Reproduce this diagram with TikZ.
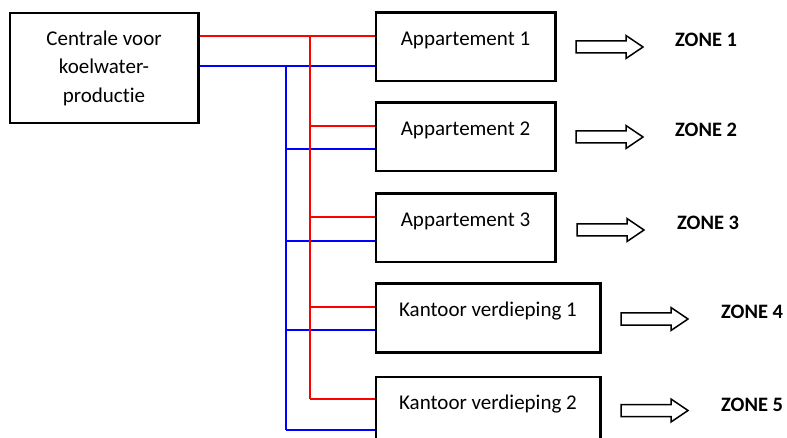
\documentclass[tikz,border=0pt]{standalone}
\usepackage{fontspec}
\setmainfont{Carlito}[Ligatures={NoCommon}]
\begin{document}
\begin{tikzpicture}[x=1pt,y=-1pt,
  box/.style={draw=black, line width=1.5pt, inner sep=0pt, fill=white},
  apbox/.style={box, minimum width=179, minimum height=68},
  kbox/.style={box, minimum width=224, minimum height=68},
  lbl/.style={anchor=base, font=\fontsize{21}{28.5}\selectfont, inner sep=0pt},
  zone/.style={anchor=base west, font=\fontsize{20.5}{24}\selectfont\bfseries, inner sep=0pt},
  hot/.style={draw=red, line width=2pt},
  cold/.style={draw=blue, line width=2pt},
  fatarrow/.pic={\draw[line width=1.5pt, fill=white, line join=miter]
     (0,-6) -- (50,-6) -- (50,-11.5) -- (67,0) -- (50,11.5) -- (50,6) -- (0,6) -- cycle;}
]
\useasboundingbox (0,0) rectangle (787,438);

% boxes
\node[box, minimum width=188, minimum height=109, align=center,
      font=\fontsize{21}{28.5}\selectfont] (cen) at (104,68) {Centrale voor\\koelwater-\\productie};
\node[apbox] (app1) at (465.5,47) {};
\node[apbox] (app2) at (465.5,137) {};
\node[apbox] (app3) at (465.5,228) {};
\node[kbox] (k1) at (488,318) {};
\node[kbox] (k2) at (488,411) {};

\node[lbl] (t1) at ([yshift=-33pt]app1.north) {Appartement 1};
\node[lbl] (t2) at ([yshift=-33pt]app2.north) {Appartement 2};
\node[lbl] (t3) at ([yshift=-33pt]app3.north) {Appartement 3};
\node[lbl] (t4) at ([yshift=-33pt]k1.north) {Kantoor verdieping 1};
\node[lbl] (t5) at ([yshift=-33pt]k2.north) {Kantoor verdieping 2};

% pipe junctions
\coordinate (r0) at (310,36);
\coordinate (r1) at (310,126);
\coordinate (r2) at (310,217);
\coordinate (r3) at (310,307);
\coordinate (r4) at (310,399);
\coordinate (b0) at (286,66);
\coordinate (b1) at (286,149);
\coordinate (b2) at (286,241);
\coordinate (b3) at (286,330);
\coordinate (b4) at (286,430);

% supply (blue)
\draw[cold] (cen.east |- b0) -- (app1.west |- b0);
\draw[cold] (b0) -- (b4);
\draw[cold] (b1) -- (app2.west |- b1);
\draw[cold] (b2) -- (app3.west |- b2);
\draw[cold] (b3) -- (k1.west |- b3);
\draw[cold] (b4) -- (k2.west |- b4);

% return (red)
\draw[hot] (cen.east |- r0) -- (app1.west |- r0);
\draw[hot] (r0) -- (r4);
\draw[hot] (r1) -- (app2.west |- r1);
\draw[hot] (r2) -- (app3.west |- r2);
\draw[hot] (r3) -- (k1.west |- r3);
\draw[hot] (r4) -- (k2.west |- r4);

% box borders on top of pipe ends
\foreach \n in {cen,app1,app2,app3,k1,k2}
  \draw[line width=1.5pt] (\n.north west) rectangle (\n.south east);

% zone arrows
\pic at (576,47) {fatarrow};
\pic at (576,137) {fatarrow};
\pic at (577,230) {fatarrow};
\pic at (621,319) {fatarrow};
\pic at (621,410.5) {fatarrow};

\node[zone] (z1) at (675,46.7) {ZONE 1};
\node[zone] (z2) at (675,136.7) {ZONE 2};
\node[zone] (z3) at (677,229.7) {ZONE 3};
\node[zone] (z4) at (721,318.8) {ZONE 4};
\node[zone] (z5) at (721,411) {ZONE 5};
\end{tikzpicture}
\end{document}
